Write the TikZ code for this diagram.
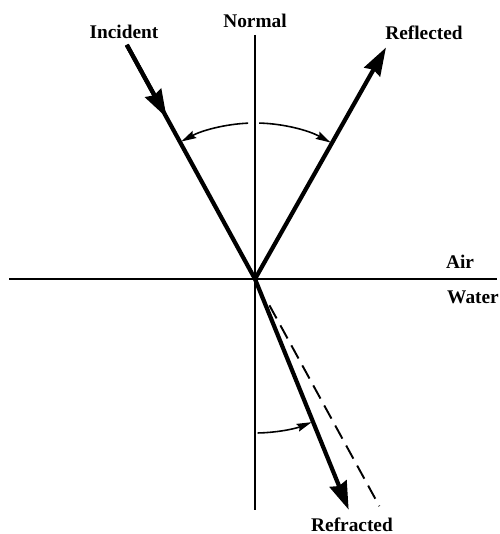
\documentclass[tikz,border=0pt]{standalone}
\usepackage{fontspec}
\setmainfont{Liberation Serif}
\usepackage{tikz}
\usetikzlibrary{calc, arrows.meta}

\begin{document}
\begin{tikzpicture}[x=0.02cm, y=0.02cm,
        ray/.style={line width=2.4pt},
        thin line/.style={line width=0.9pt},
        big tip/.style={-{Stealth[length=0.56cm, width=0.36cm, inset=0.05cm]}},
        arc tip/.style={thin line, -{Stealth[length=0.3cm, width=0.16cm, inset=0.04cm]}},
        lbl/.style={font=\fontsize{11}{13}\selectfont\bfseries, inner sep=0pt}]
                \useasboundingbox (0,0) rectangle (500,534);
                \coordinate (O) at (255,255);
                \coordinate (N) at (255,499);
                \coordinate (S) at (255,24);
                \coordinate (W) at (9,255);
                \coordinate (E) at (497,255);
                \coordinate (I) at ($(O)+(118.7:267)$);
                \coordinate (M) at ($(O)+(118.7:184)$);
                \coordinate (R) at ($(O)+(60.5:266)$);
                \coordinate (T) at ($(O)+(-67.9:249)$);
                \coordinate (D1) at ($(O)+(-61.3:30)$);
                \coordinate (D2) at ($(O)+(-61.3:259)$);
                % normal and surface
                \draw[thin line] (N) -- (S);
                \draw[thin line] (W) -- (E);
                % rays
                \draw[ray] (I) -- (O);
                \draw[ray, big tip] (I) -- (M);
                \draw[ray, big tip] (O) -- (R);
                \draw[ray, big tip] (O) -- (T);
                \draw[line width=1.1pt, dash pattern=on 8.5pt off 4.5pt] (D1) -- (D2);
                % angles
                \draw[arc tip] ($(O)+(92.5:156)$) arc[start angle=92.5, end angle=118.2, radius=156];
                \draw[arc tip] ($(O)+(88.5:156)$) arc[start angle=88.5, end angle=61, radius=156];
                \draw[arc tip] ($(O)+(-89:154)$) arc[start angle=-89, end angle=-68.4, radius=154];
                % labels
                \node[lbl] (incident) at (124,502) {Incident};
                \node[lbl] (normal) at (255,513) {Normal};
                \node[lbl] (reflected) at (424,501) {Reflected};
                \node[lbl] (air) at (460,272) {Air};
                \node[lbl] (water) at (473,237) {Water};
                \node[lbl] (refracted) at (352,9) {Refracted};
            \end{tikzpicture}
\end{document}
